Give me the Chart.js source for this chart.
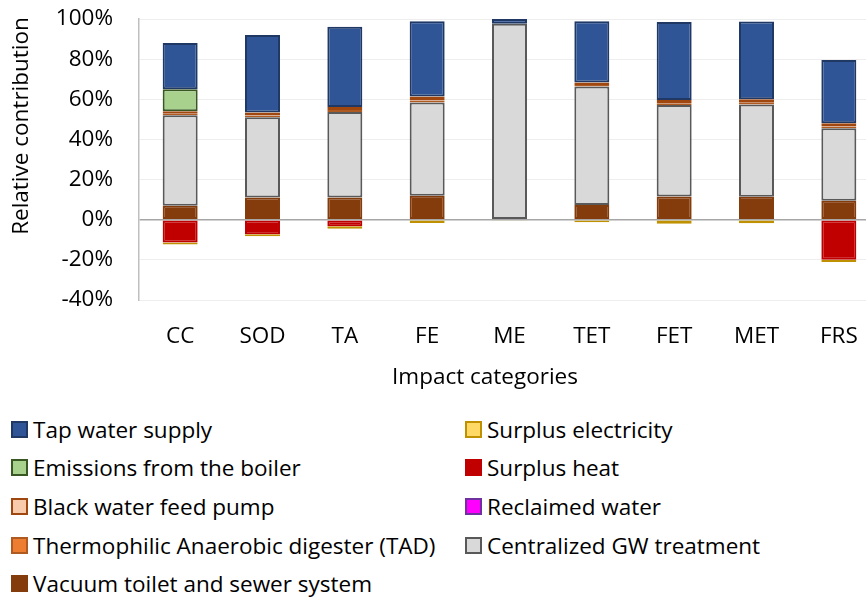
<!DOCTYPE html>
<html>
<head>
<meta charset="utf-8">
<script src="https://cdn.jsdelivr.net/npm/chart.js@4"></script>
<style>
  html, body { margin: 0; padding: 0; background: #fff; overflow: hidden; }
  body { width: 866px; height: 598px; position: relative; font-family: "Open Sans", sans-serif; }
  #chart { position: absolute; left: 0; top: 0; }
  #legend {
    position: absolute; left: 11px; top: 410px;
    display: grid; grid-auto-flow: column;
    grid-template-columns: 454px auto; grid-template-rows: repeat(5, 38.6px);
    font-size: 22.5px; color: #000;
  }
  .item { display: flex; align-items: center; white-space: nowrap; }
  .box { width: 13px; height: 13px; border: 2px solid; margin-right: 5px; flex: none; }
</style>
</head>
<body>
<canvas id="chart" width="880" height="400"></canvas>
<div id="legend"></div>
<script>
// Relative contribution (%) per impact category
const categories = ['CC', 'SOD', 'TA', 'FE', 'ME', 'TET', 'FET', 'MET', 'FRS'];

const vacuumToilet    = [7.0, 11.1, 11.1, 11.9, 0.3, 7.3, 11.6, 11.4, 9.5];
const centralizedGW   = [45.0, 40.0, 42.6, 46.5, 97.3, 59.1, 45.5, 46.0, 36.1];
const tadDigester     = [0.8, 0.8, 0.9, 1.0, 0, 0.7, 0.9, 0.9, 0.9];
const blackWaterPump  = [1.2, 1.5, 1.6, 2.0, 0, 1.3, 1.6, 1.7, 1.5];
const boilerEmissions = [11.0, 0, 0, 0, 0, 0, 0, 0, 0];
const tapWater        = [23.0, 38.6, 40.0, 37.5, 2.4, 30.5, 38.9, 38.7, 31.6];
const surplusHeat     = [-11.3, -7.3, -3.3, 0, 0, 0, 0, 0, -19.9];
const surplusElec     = [-1.0, -1.0, -1.2, -1.6, -0.3, -1.3, -2.0, -1.8, -1.2];
const reclaimedWater  = [0, 0, 0, 0, 0, 0, 0, 0, 0];

const yTicks = [-40, -20, 0, 20, 40, 60, 80, 100];

const FONT = '"Open Sans", sans-serif';
const FONT_SIZE = 22.5;

// stacking order = dataset order (bottom-up)
const series = [
  { label: 'Vacuum toilet and sewer system', data: vacuumToilet, fill: '#843C0C', line: '#843C0C' },
  { label: 'Centralized GW treatment', data: centralizedGW, fill: '#D9D9D9', line: '#595959' },
  { label: 'Thermophilic Anaerobic digester (TAD)', data: tadDigester, fill: '#ED7D31', line: '#AE5A21' },
  { label: 'Black water feed pump', data: blackWaterPump, fill: '#F8CBAD', line: '#A0460F' },
  { label: 'Emissions from the boiler', data: boilerEmissions, fill: '#A9D18E', line: '#385723' },
  { label: 'Tap water supply', data: tapWater, fill: '#2F5597', line: '#1F3864' },
  { label: 'Surplus heat', data: surplusHeat, fill: '#C00000', line: '#C00000' },
  { label: 'Surplus electricity', data: surplusElec, fill: '#FFD966', line: '#BF9000' },
  { label: 'Reclaimed water', data: reclaimedWater, fill: '#FF00FF', line: '#7030A0' },
];

const legendOrder = [
  'Tap water supply', 'Emissions from the boiler', 'Black water feed pump',
  'Thermophilic Anaerobic digester (TAD)', 'Vacuum toilet and sewer system',
  'Surplus electricity', 'Surplus heat', 'Reclaimed water', 'Centralized GW treatment',
];

// axis titles sit off-centre in the original, draw them by hand
const axisTitles = {
  id: 'axisTitles',
  afterDraw(chart) {
    const ctx = chart.ctx;
    ctx.save();
    ctx.font = FONT_SIZE + 'px ' + FONT;
    ctx.fillStyle = '#000';
    ctx.textAlign = 'center';
    ctx.textBaseline = 'middle';
    ctx.fillText('Impact categories', 485, 378);
    ctx.translate(22, 126);
    ctx.rotate(-Math.PI / 2);
    ctx.fillText('Relative contribution', 0, 0);
    ctx.restore();
  }
};

new Chart(document.getElementById('chart'), {
  type: 'bar',
  data: {
    labels: categories,
    datasets: series.map(s => ({
      label: s.label,
      data: s.data,
      backgroundColor: s.fill,
      borderColor: s.line,
      borderWidth: 2,
      borderSkipped: false,
      barPercentage: 0.425,
      categoryPercentage: 1,
    })),
  },
  options: {
    responsive: false, animation: false,
    layout: { padding: { top: 19, left: 0, right: 0, bottom: 0 } },
    plugins: { legend: { display: false }, tooltip: { enabled: false } },
    scales: {
      x: {
        stacked: true,
        grid: { display: false, drawTicks: false },
        border: { display: false },
        ticks: { color: '#000', padding: 23, font: { family: FONT, size: FONT_SIZE } },
        afterFit: s => { s.height = 100; s.paddingLeft = 0; s.paddingRight = 0; },
      },
      y: {
        stacked: true, min: -40, max: 100,
        afterBuildTicks: s => { s.ticks = yTicks.map(v => ({ value: v })); },
        grid: {
          drawTicks: false,
          color: c => c.tick && c.tick.value === 0 ? '#A6A6A6' : '#EEEEEE',
          lineWidth: c => c.tick && c.tick.value === 0 ? 1.5 : 1,
        },
        border: { display: true, color: '#BFBFBF', width: 1.5 },
        ticks: { color: '#000', padding: 26, font: { family: FONT, size: FONT_SIZE }, callback: v => v + '%' },
        afterFit: s => { s.width = 139; s.paddingTop = 0; s.paddingBottom = 0; },
      },
    },
  },
  plugins: [axisTitles],
});

const legend = document.getElementById('legend');
legendOrder.forEach(name => {
  const s = series.find(x => x.label === name);
  const item = document.createElement('div');
  item.className = 'item';
  item.innerHTML = `<span class="box" style="background:${s.fill};border-color:${s.line}"></span>${name}`;
  legend.appendChild(item);
});
</script>
</body>
</html>
